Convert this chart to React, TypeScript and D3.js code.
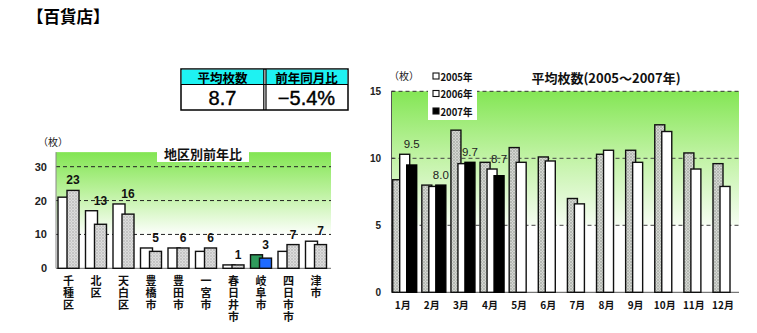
import React from "react";
import * as d3 from "d3";

const leftCategories = ["千種区", "北区", "天白区", "豊橋市", "豊田市", "一宮市", "春日井市", "岐阜市", "四日市市", "津市"];
const left2006 = [21, 17, 19, 6, 6, 5, 1, 4, 5, 8];
const left2007 = [23, 13, 16, 5, 6, 6, 1, 3, 7, 7];
const leftTicks = [0, 10, 20, 30];
const highlightIndex = 7;

const months = ["1月", "2月", "3月", "4月", "5月", "6月", "7月", "8月", "9月", "10月", "11月", "12月"];
const avg2005 = [8.4, 8.0, 12.1, 9.7, 10.8, 10.1, 7.0, 10.3, 10.6, 12.5, 10.4, 9.6];
const avg2006 = [10.3, 7.9, 9.6, 9.2, 9.7, 9.8, 6.6, 10.6, 9.7, 12.0, 9.2, 7.9];
const avg2007 = [9.5, 8.0, 9.7, 8.7];
const rightTicks = [0, 5, 10, 15];
const legendLabels = ["2005年", "2006年", "2007年"];

const summaryHeaders = ["平均枚数", "前年同月比"];
const summaryValues = ["8.7", "−5.4%"];

const JP = "'Noto Sans CJK JP', 'Noto Sans', sans-serif";
const NUM = "'Liberation Sans', Arial, sans-serif";

export default function App() {
  // left chart scales
  const yL = d3.scaleLinear().domain([0, 30]).range([268.3, 166.7]);
  const xL = d3.scalePoint<string>().domain(leftCategories).range([68.5, 316]);
  const leftAxisX = 56;
  const leftRight = 331;
  const leftTop = yL(34.3);

  // right chart scales
  const yR = d3.scaleLinear().domain([0, 15]).range([292.3, 91.3]);
  const xR = d3.scalePoint<string>().domain(months).range([402.7, 723]);
  const rightAxisX = 391.5;
  const rightRight = 739;

  const off2005 = -10, off2006 = -3, off2007 = 4, bwR = 10;
  const bwL = 12;

  return (
    <svg width={757} height={333} style={{ position: "absolute", left: 0, top: 0, background: "#fff" }}>
      <defs>
        <linearGradient id="gL" x1="0" y1={leftTop} x2="0" y2={yL(9.5)} gradientUnits="userSpaceOnUse">
          <stop offset="0" stopColor="#82e552" />
          <stop offset="0.45" stopColor="#b9f19a" />
          <stop offset="1" stopColor="#ffffff" />
        </linearGradient>
        <linearGradient id="gR" x1="0" y1={yR(15)} x2="0" y2={yR(5)} gradientUnits="userSpaceOnUse">
          <stop offset="0" stopColor="#84e655" />
          <stop offset="0.5" stopColor="#c2f3a6" />
          <stop offset="1" stopColor="#f6fdf2" />
        </linearGradient>
        <pattern id="stip" width="3" height="3" patternUnits="userSpaceOnUse">
          <rect width="3" height="3" fill="#d4d6d2" />
          <circle cx="1" cy="1" r="0.8" fill="#8f948c" />
          <circle cx="2.5" cy="2.5" r="0.5" fill="#a9ada6" />
        </pattern>
        <pattern id="stipL" width="3" height="3" patternUnits="userSpaceOnUse">
          <rect width="3" height="3" fill="#dcdcdc" />
          <circle cx="1" cy="1" r="0.7" fill="#9a9a9a" />
          <circle cx="2.5" cy="2.5" r="0.45" fill="#b3b3b3" />
        </pattern>
      </defs>

      {/* main title */}
      <text x={27} y={23} fontFamily={JP} fontWeight="bold" fontSize={16.5} fill="#000">【百貨店】</text>

      {/* summary table */}
      <g>
        <rect x={181} y={69} width={167} height={41} fill="#fff" stroke="#000" strokeWidth={1.5} />
        <rect x={181.75} y={69.75} width={82} height={14.5} fill="#1ef2f2" />
        <rect x={266} y={69.75} width={81.25} height={14.5} fill="#1ef2f2" />
        <line x1={181} x2={348} y1={84.5} y2={84.5} stroke="#000" strokeWidth={1.2} />
        <line x1={263.8} x2={263.8} y1={69} y2={110} stroke="#000" strokeWidth={1.2} />
        <line x1={266} x2={266} y1={69} y2={110} stroke="#000" strokeWidth={1.2} />
        {summaryHeaders.map((h, i) => (
          <text key={h} x={i === 0 ? 222.5 : 306.5} y={77.5} textAnchor="middle" dominantBaseline="central"
            fontFamily={JP} fontWeight="bold" fontSize={12.5} fill="#000">{h}</text>
        ))}
        {summaryValues.map((v, i) => (
          <text key={v} x={i === 0 ? 222.5 : 306.5} y={98} textAnchor="middle" dominantBaseline="central"
            fontFamily={NUM} fontSize={20} stroke="#000" strokeWidth={0.4} fill="#000">{v}</text>
        ))}
      </g>

      {/* ===== Left chart ===== */}
      <rect x={leftAxisX} y={leftTop} width={leftRight - leftAxisX} height={yL(9.5) - leftTop} fill="url(#gL)" />
      {leftTicks.filter(t => t > 0).map(t => (
        <line key={t} x1={leftAxisX} x2={leftRight} y1={yL(t)} y2={yL(t)} stroke="#222" strokeWidth={1} strokeDasharray="4,3" />
      ))}
      <line x1={leftAxisX} x2={leftAxisX} y1={leftTop} y2={yL(0)} stroke="#888" strokeWidth={1} />
      <line x1={leftAxisX} x2={leftRight} y1={yL(0)} y2={yL(0)} stroke="#888" strokeWidth={1.2} />
      {leftTicks.map(t => (
        <text key={t} x={47} y={yL(t)} textAnchor="end" dominantBaseline="central" fontFamily={NUM} fontWeight="bold" fontSize={11} fill="#222">{t}</text>
      ))}
      <text x={38} y={141} fontFamily={JP} fontSize={10} fill="#222" dominantBaseline="central">（枚）</text>
      <rect x={157} y={144} width={92} height={18} fill="#fff" />
      <text x={203} y={153.5} textAnchor="middle" dominantBaseline="central" fontFamily={JP} fontWeight="bold" fontSize={13} fill="#111">地区別前年比</text>

      {leftCategories.map((c, i) => {
        const cx = xL(c) as number;
        const hi = i === highlightIndex;
        const t1 = yL(left2006[i]);
        const t2 = yL(left2007[i]);
        const top = Math.min(t1, t2);
        return (
          <g key={c}>
            <rect x={cx - 10.5} y={t1} width={bwL} height={yL(0) - t1} fill={hi ? "#2f9a5c" : "#fff"} stroke="#111" strokeWidth={1.4} />
            <rect x={cx - 1.5} y={t2} width={bwL} height={yL(0) - t2} fill={hi ? "#1f6bff" : "url(#stipL)"} stroke="#111" strokeWidth={1.4} />
            <text x={cx + 4.5} y={top - 10} textAnchor="middle" dominantBaseline="central" fontFamily={NUM} fontWeight="bold" fontSize={12} fill="#111">{left2007[i]}</text>
            <text x={cx} y={275} writingMode="vertical-rl" style={{ writingMode: "vertical-rl" } as any}
              fontFamily={JP} fontWeight="bold" fontSize={11} letterSpacing={1.2} fill="#111">{c}</text>
          </g>
        );
      })}

      {/* ===== Right chart ===== */}
      <rect x={rightAxisX} y={yR(15)} width={rightRight - rightAxisX} height={yR(5) - yR(15)} fill="url(#gR)" />
      {rightTicks.filter(t => t > 0).map(t => (
        <line key={t} x1={rightAxisX} x2={rightRight} y1={yR(t)} y2={yR(t)} stroke={t === 15 ? "#333" : "#444"} strokeWidth={1} strokeDasharray="4,3" />
      ))}
      <line x1={rightAxisX} x2={rightAxisX} y1={yR(15)} y2={yR(0)} stroke="#555" strokeWidth={1} />
      {rightTicks.map(t => (
        <line key={"tk" + t} x1={rightAxisX} x2={rightAxisX + 3} y1={yR(t)} y2={yR(t)} stroke="#333" strokeWidth={1} />
      ))}
      <line x1={rightAxisX} x2={rightRight} y1={yR(0)} y2={yR(0)} stroke="#777" strokeWidth={1.2} />
      {rightTicks.map(t => (
        <text key={t} x={381} y={yR(t)} textAnchor="end" dominantBaseline="central" fontFamily={NUM} fontWeight="bold" fontSize={10} fill="#222">{t}</text>
      ))}
      <text x={389} y={75} fontFamily={JP} fontSize={10} fill="#222" dominantBaseline="central">（枚）</text>
      <text x={606} y={77} textAnchor="middle" dominantBaseline="central" fontFamily={JP} fontWeight="bold" fontSize={13} fill="#111">平均枚数(2005～2007年)</text>

      {months.map((m, i) => {
        const cx = xR(m) as number;
        const has07 = i < avg2007.length;
        const t05 = yR(avg2005[i]);
        const t06 = yR(avg2006[i]);
        const t07 = has07 ? yR(avg2007[i]) : 0;
        return (
          <g key={m}>
            <rect x={cx + off2005} y={t05} width={bwR} height={yR(0) - t05} fill="url(#stip)" stroke="#111" strokeWidth={1.4} />
            <rect x={cx + off2006} y={t06} width={bwR} height={yR(0) - t06} fill="#fff" stroke="#111" strokeWidth={1.4} />
            {has07 && (
              <rect x={cx + off2007} y={t07} width={bwR} height={yR(0) - t07} fill="#000" stroke="#000" strokeWidth={1.4} />
            )}
            {has07 && (
              <text x={cx + off2007 + bwR / 2} y={Math.min(t06, t07) - 10} textAnchor="middle" dominantBaseline="central"
                fontFamily={NUM} fontSize={11.5} fill="#222">{avg2007[i].toFixed(1)}</text>
            )}
            <text x={cx} y={304} textAnchor="middle" dominantBaseline="central" fontFamily={JP} fontWeight="bold" fontSize={10} fill="#111">{m}</text>
          </g>
        );
      })}

      {/* legend */}
      <rect x={428} y={70} width={49} height={50} fill="#fff" />
      {legendLabels.map((l, i) => (
        <g key={l}>
          <rect x={433} y={76 + i * 17.5 - 3} width={6} height={6} fill={i === 2 ? "#000" : "#fff"} stroke="#111" strokeWidth={1.1} />
          <text x={440.5} y={76 + i * 17.5} dominantBaseline="central" fontFamily={JP} fontWeight="bold" fontSize={10.5} fill="#111" textLength={32} lengthAdjust="spacingAndGlyphs">{l}</text>
        </g>
      ))}
    </svg>
  );
}
